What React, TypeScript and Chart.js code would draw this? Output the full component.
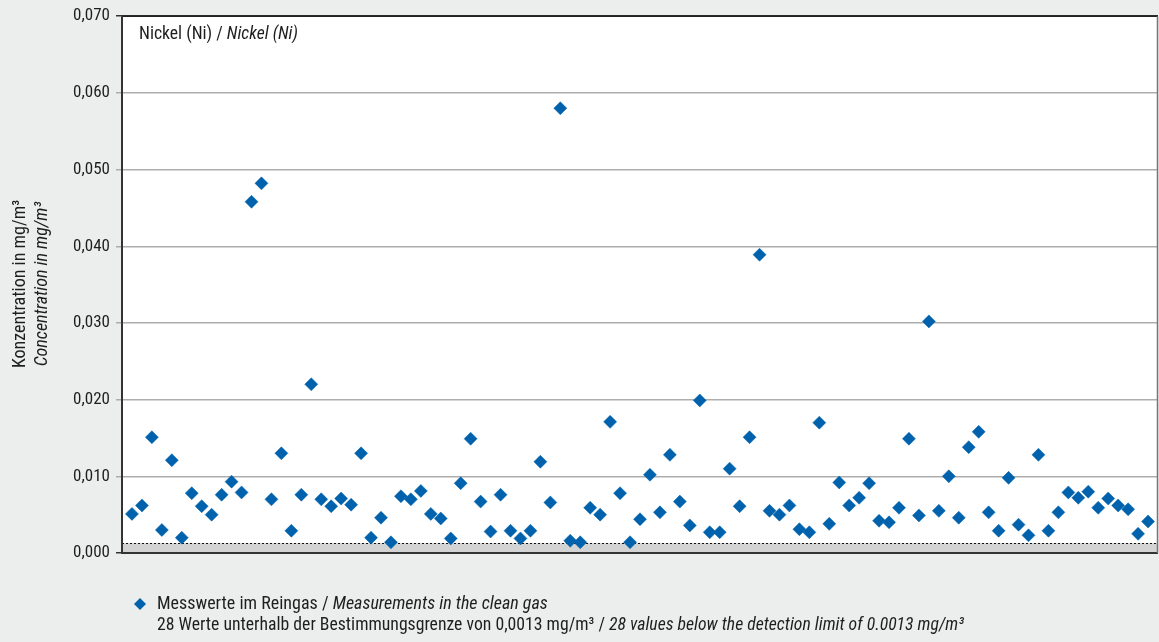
import { useEffect, useRef } from 'react';
import { Chart, registerables } from 'chart.js';

Chart.register(...registerables);

const FONT = "'Liberation Sans Narrow', 'Roboto Condensed', 'DejaVu Sans Condensed', 'Liberation Sans', sans-serif";

// Measured nickel concentrations in clean gas (mg/m³), one per measurement
const nickelValues = [
  0.0051, 0.0062, 0.0151, 0.0030, 0.0121, 0.0020, 0.0078, 0.0061, 0.0050, 0.0076,
  0.0093, 0.0079, 0.0458, 0.0482, 0.0070, 0.0130, 0.0029, 0.0076, 0.0220, 0.0070,
  0.0061, 0.0071, 0.0063, 0.0130, 0.0020, 0.0046, 0.0014, 0.0074, 0.0070, 0.0081,
  0.0051, 0.0045, 0.0019, 0.0091, 0.0149, 0.0067, 0.0028, 0.0076, 0.0029, 0.0019,
  0.0029, 0.0119, 0.0066, 0.0580, 0.0016, 0.0014, 0.0059, 0.0050, 0.0171, 0.0078,
  0.0014, 0.0044, 0.0102, 0.0053, 0.0128, 0.0067, 0.0036, 0.0199, 0.0027, 0.0027,
  0.0110, 0.0061, 0.0151, 0.0389, 0.0055, 0.0050, 0.0062, 0.0031, 0.0027, 0.0170,
  0.0038, 0.0092, 0.0062, 0.0072, 0.0091, 0.0042, 0.0040, 0.0059, 0.0149, 0.0049,
  0.0302, 0.0055, 0.0100, 0.0046, 0.0138, 0.0158, 0.0053, 0.0029, 0.0098, 0.0037,
  0.0023, 0.0128, 0.0029, 0.0053, 0.0079, 0.0072, 0.0080, 0.0059, 0.0071, 0.0062,
  0.0057, 0.0025, 0.0041,
];

const yTickValues = [0, 0.01, 0.02, 0.03, 0.04, 0.05, 0.06, 0.07];
const yTickLabels = ['0,000', '0,010', '0,020', '0,030', '0,040', '0,050', '0,060', '0,070'];
const detectionLimit = 0.0013;

const titleParts = [
  { text: 'Nickel (Ni) / ', italic: false },
  { text: 'Nickel (Ni)', italic: true },
];
const axisTitleLines = [
  { text: 'Konzentration in mg/m³', italic: false },
  { text: 'Concentration in mg/m³', italic: true },
];
const legendLine1 = [
  { text: 'Messwerte im Reingas / ', italic: false },
  { text: 'Measurements in the clean gas', italic: true },
];
const legendLine2 = [
  { text: '28 Werte unterhalb der Bestimmungsgrenze von 0,0013 mg/m³ / ', italic: false },
  { text: '28 values below the detection limit of 0.0013 mg/m³', italic: true },
];

const BLUE = '#0062AC';
const BG = '#eceeed';
const TEXT = '#1e1e1e';

type Seg = { text: string; italic: boolean };

function drawSegs(ctx: CanvasRenderingContext2D, segs: Seg[], x: number, y: number, size: number) {
  let cx = x;
  for (const s of segs) {
    ctx.font = `${s.italic ? 'italic ' : ''}${size}px ${FONT}`;
    ctx.fillText(s.text, cx, y);
    cx += ctx.measureText(s.text).width;
  }
}

const decorPlugin = {
  id: 'decor',
  beforeDraw(chart: any) {
    const { ctx, chartArea: a } = chart;
    ctx.save();
    ctx.fillStyle = BG;
    ctx.fillRect(0, 0, chart.width, chart.height);
    ctx.fillStyle = '#ffffff';
    ctx.fillRect(a.left, a.top, a.right - a.left, a.bottom - a.top);
    ctx.restore();
  },
  beforeDatasetsDraw(chart: any) {
    const { ctx, chartArea: a, scales } = chart;
    const y0 = scales.y.getPixelForValue(0);
    const yl = scales.y.getPixelForValue(detectionLimit);
    ctx.save();
    ctx.fillStyle = '#d3d3d3';
    ctx.fillRect(a.left, yl, a.right - a.left, y0 - yl);
    ctx.strokeStyle = '#111';
    ctx.lineWidth = 1;
    ctx.setLineDash([2, 2]);
    ctx.beginPath();
    ctx.moveTo(a.left, Math.round(yl) + 0.5);
    ctx.lineTo(a.right, Math.round(yl) + 0.5);
    ctx.stroke();
    ctx.setLineDash([]);
    // frame
    ctx.strokeStyle = '#333';
    ctx.lineWidth = 2;
    ctx.beginPath();
    ctx.moveTo(a.left, y0);
    ctx.lineTo(a.right, y0);
    ctx.stroke();
    ctx.lineWidth = 1.5;
    ctx.strokeStyle = '#222';
    ctx.beginPath();
    ctx.moveTo(a.left, a.top);
    ctx.lineTo(a.right, a.top);
    ctx.stroke();
    ctx.strokeStyle = '#777';
    ctx.beginPath();
    ctx.moveTo(a.right - 0.5, a.top);
    ctx.lineTo(a.right - 0.5, y0);
    ctx.stroke();
    ctx.strokeStyle = '#333';
    ctx.lineWidth = 2;
    ctx.beginPath();
    ctx.moveTo(a.left, a.top);
    ctx.lineTo(a.left, y0 + 1);
    ctx.stroke();
    ctx.restore();
  },
  afterDraw(chart: any) {
    const { ctx, chartArea: a } = chart;
    ctx.save();
    ctx.fillStyle = TEXT;
    ctx.textBaseline = 'middle';
    ctx.textAlign = 'left';
    drawSegs(ctx, titleParts, a.left + 17, a.top + 18, 17.6);

    // axis title (rotated)
    ctx.save();
    ctx.translate(20, 284);
    ctx.rotate(-Math.PI / 2);
    ctx.textAlign = 'center';
    ctx.font = `18px ${FONT}`;
    ctx.fillText(axisTitleLines[0].text, 0, 0);
    ctx.font = `italic 18px ${FONT}`;
    ctx.fillText(axisTitleLines[1].text, 0, 22);
    ctx.restore();

    // legend
    const lx = 140, ly = 604;
    ctx.fillStyle = BLUE;
    ctx.beginPath();
    ctx.moveTo(lx, ly - 6);
    ctx.lineTo(lx + 6, ly);
    ctx.lineTo(lx, ly + 6);
    ctx.lineTo(lx - 6, ly);
    ctx.closePath();
    ctx.fill();
    ctx.fillStyle = TEXT;
    ctx.textAlign = 'left';
    drawSegs(ctx, legendLine1, 157, ly, 18);
    drawSegs(ctx, legendLine2, 157, ly + 22, 17.7);
    ctx.restore();
  },
};

export default function App() {
  const ref = useRef<HTMLCanvasElement | null>(null);

  useEffect(() => {
    document.body.style.margin = '0';
    document.body.style.background = BG;
    const canvas = ref.current;
    if (!canvas) return;
    const chart = new Chart(canvas, {
      type: 'scatter',
      data: {
        datasets: [
          {
            label: 'Messwerte im Reingas',
            data: nickelValues.map((v, i) => ({ x: i + 1, y: v })),
            pointStyle: 'rectRot',
            pointRadius: 6.5,
            pointHoverRadius: 6.5,
            backgroundColor: BLUE,
            borderColor: BLUE,
            borderWidth: 0.5,
          },
        ],
      },
      options: {
        responsive: false,
        animation: false,
        events: [],
        layout: { autoPadding: false, padding: { left: 0, top: 16, right: 1, bottom: 89 } },
        plugins: {
          legend: { display: false },
          tooltip: { enabled: false },
          title: { display: false },
        },
        scales: {
          x: {
            type: 'linear',
            min: 0,
            max: nickelValues.length + 1,
            display: false,
          },
          y: {
            min: 0,
            max: 0.07,
            afterFit: (scale: any) => {
              scale.width = 122;
            },
            afterBuildTicks: (scale: any) => {
              scale.ticks = yTickValues.map((v) => ({ value: v }));
            },
            ticks: {
              padding: 6,
              color: TEXT,
              font: { family: FONT, size: 17 },
              callback: (_v: any, i: number) => yTickLabels[i],
            },
            grid: {
              color: (c: any) => (c.tick && (c.tick.value === 0 || c.tick.value === 0.07) ? '#333' : '#adadad'),
              lineWidth: 1.5,
              tickLength: 6,
              drawTicks: true,
            },
            border: { display: false },
          },
        },
      },
      plugins: [decorPlugin],
    });
    return () => chart.destroy();
  }, []);

  return (
    <div style={{ width: 1159, height: 642, background: BG }}>
      <canvas ref={ref} width={1159} height={642} style={{ display: 'block', width: 1159, height: 642 }} />
    </div>
  );
}
